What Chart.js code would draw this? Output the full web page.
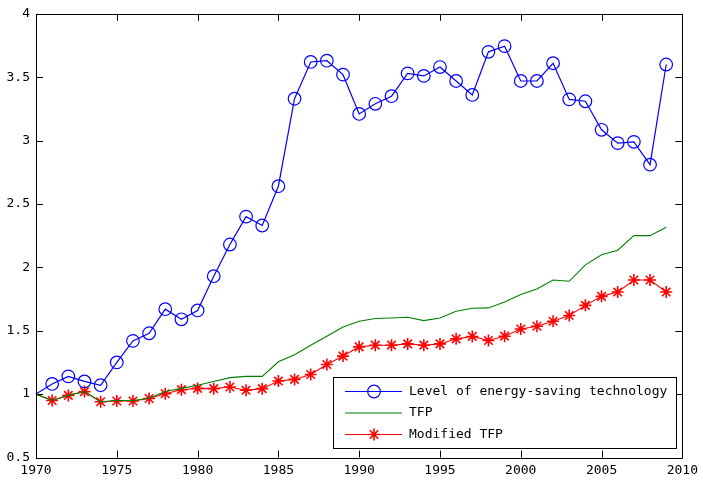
<!DOCTYPE html>
<html lang="en">

<head>
	<meta charset="UTF-8">
	<title>Energy-saving technology and TFP</title>
	<style>
		body { margin: 0; background: #fff; }
	</style>
</head>

<body>
	<canvas id="myChart" width="703" height="485"></canvas>

	<script src="https://cdn.jsdelivr.net/npm/chart.js"></script>
	<script>
		const years = [1970, 1971, 1972, 1973, 1974, 1975, 1976, 1977, 1978, 1979,
			1980, 1981, 1982, 1983, 1984, 1985, 1986, 1987, 1988, 1989,
			1990, 1991, 1992, 1993, 1994, 1995, 1996, 1997, 1998, 1999,
			2000, 2001, 2002, 2003, 2004, 2005, 2006, 2007, 2008, 2009];

		const energyTech = [1.00, 1.08, 1.14, 1.10, 1.07, 1.25, 1.42, 1.48, 1.67, 1.59,
			1.66, 1.93, 2.18, 2.40, 2.33, 2.64, 3.33, 3.62, 3.63, 3.52,
			3.21, 3.29, 3.35, 3.53, 3.51, 3.58, 3.47, 3.36, 3.70, 3.745,
			3.47, 3.47, 3.61, 3.325, 3.31, 3.085, 2.98, 2.99, 2.81, 3.60];

		const tfp = [1.00, 0.95, 0.99, 1.02, 0.94, 0.95, 0.95, 0.967, 1.02, 1.045,
			1.07, 1.10, 1.13, 1.14, 1.14, 1.255, 1.31, 1.385, 1.457, 1.53,
			1.575, 1.596, 1.60, 1.606, 1.58, 1.60, 1.653, 1.677, 1.68, 1.727,
			1.785, 1.83, 1.90, 1.89, 2.02, 2.10, 2.135, 2.25, 2.25, 2.316];

		const modifiedTfp = [1.00, 0.95, 0.99, 1.02, 0.94, 0.946, 0.946, 0.965, 1.003, 1.035,
			1.045, 1.043, 1.056, 1.03, 1.043, 1.103, 1.116, 1.155, 1.234, 1.30,
			1.373, 1.386, 1.386, 1.396, 1.386, 1.396, 1.436, 1.455, 1.423, 1.457,
			1.514, 1.535, 1.575, 1.62, 1.70, 1.771, 1.805, 1.90, 1.90, 1.805];

		const xTicks = [1970, 1975, 1980, 1985, 1990, 1995, 2000, 2005, 2010];
		const yTicks = [0.5, 1, 1.5, 2, 2.5, 3, 3.5, 4];

		const FONT = '"DejaVu Sans Mono", monospace';

		function pts(values) {
			return years.map((y, i) => ({ x: y, y: values[i] }));
		}

		// no marker on the 1970 base point
		const markerSize = (r) => (c) => (c.dataIndex === 0 ? 0 : r);

		// matlab style box with inward ticks, and legend inside the plot
		const matlabBox = {
			id: 'matlab_box',
			afterDraw: (chart) => {
				const ctx = chart.ctx;
				const { top, left, right, bottom } = chart.chartArea;
				const xs = chart.scales.x;
				const ys = chart.scales.y;
				const tl = 7;
				ctx.save();
				ctx.strokeStyle = '#000';
				ctx.lineWidth = 1;
				ctx.beginPath();
				ctx.rect(Math.round(left) + 0.5, Math.round(top) + 0.5,
					Math.round(right - left), Math.round(bottom - top));
				xTicks.forEach(v => {
					const px = Math.round(xs.getPixelForValue(v)) + 0.5;
					ctx.moveTo(px, bottom); ctx.lineTo(px, bottom - tl);
					ctx.moveTo(px, top); ctx.lineTo(px, top + tl);
				});
				yTicks.forEach(v => {
					const py = Math.round(ys.getPixelForValue(v)) + 0.5;
					ctx.moveTo(left, py); ctx.lineTo(left + tl, py);
					ctx.moveTo(right, py); ctx.lineTo(right - tl, py);
				});
				ctx.stroke();

				// legend
				const lx = 333.5, ly = 377.5, lw = 343, lh = 71;
				ctx.fillStyle = '#fff';
				ctx.fillRect(lx, ly, lw, lh);
				ctx.strokeRect(lx, ly, lw, lh);
				ctx.font = '13px ' + FONT;
				ctx.textBaseline = 'middle';
				chart.data.datasets.forEach((ds, i) => {
					const cy = 391.5 + i * 21.5;
					const r = ds.legendRadius;
					ctx.strokeStyle = ds.borderColor;
					ctx.lineWidth = ds.borderWidth;
					ctx.beginPath();
					ctx.moveTo(345, cy); ctx.lineTo(402, cy);
					ctx.stroke();
					const cx = 374;
					if (ds.pointStyle === 'circle' && r > 0) {
						ctx.beginPath();
						ctx.arc(cx, cy, r, 0, Math.PI * 2);
						ctx.stroke();
					} else if (ds.pointStyle === 'star') {
						const d = r * Math.SQRT1_2;
						ctx.lineWidth = ds.pointBorderWidth;
						ctx.beginPath();
						ctx.moveTo(cx - r, cy); ctx.lineTo(cx + r, cy);
						ctx.moveTo(cx, cy - r); ctx.lineTo(cx, cy + r);
						ctx.moveTo(cx - d, cy - d); ctx.lineTo(cx + d, cy + d);
						ctx.moveTo(cx - d, cy + d); ctx.lineTo(cx + d, cy - d);
						ctx.stroke();
					}
					ctx.fillStyle = '#000';
					ctx.fillText(ds.label, 409, cy);
				});
				ctx.restore();
			}
		};

		const data = {
			datasets: [
				{
					label: 'Level of energy-saving technology',
					data: pts(energyTech),
					borderColor: '#0000ff',
					backgroundColor: 'rgba(0,0,0,0)',
					borderWidth: 1.2,
					pointStyle: 'circle',
					legendRadius: 6.3,
					pointRadius: markerSize(6.3),
					pointBorderWidth: 1.2,
					pointBackgroundColor: 'rgba(0,0,0,0)',
					tension: 0,
					clip: false
				},
				{
					label: 'TFP',
					data: pts(tfp),
					borderColor: '#008000',
					backgroundColor: 'rgba(0,0,0,0)',
					borderWidth: 1.1,
					legendRadius: 0,
					pointRadius: 0,
					tension: 0,
					clip: false
				},
				{
					label: 'Modified TFP',
					data: pts(modifiedTfp),
					borderColor: '#ff0000',
					backgroundColor: '#ff0000',
					borderWidth: 1.1,
					pointStyle: 'star',
					legendRadius: 6,
					pointRadius: markerSize(6),
					pointBorderWidth: 1.6,
					tension: 0,
					clip: false
				}
			]
		};

		const config = {
			type: 'line',
			data: data,
			plugins: [matlabBox],
			options: {
				responsive: false,
				animation: false,
				events: [],
				layout: { padding: { top: 11.5, right: 15, left: 0, bottom: 0 } },
				plugins: {
					legend: { display: false },
					tooltip: { enabled: false }
				},
				scales: {
					x: {
						type: 'linear',
						min: 1970,
						max: 2010,
						afterBuildTicks: (s) => { s.ticks = xTicks.map(v => ({ value: v })); },
						afterFit: (s) => { s.height = 27.5; },
						grid: { display: false, drawTicks: false },
						border: { display: false },
						ticks: {
							padding: 5,
							color: '#000',
							font: { family: FONT, size: 13 },
							maxRotation: 0,
							autoSkip: false,
							callback: (v) => String(v)
						}
					},
					y: {
						type: 'linear',
						min: 0.5,
						max: 4,
						afterBuildTicks: (s) => { s.ticks = yTicks.map(v => ({ value: v })); },
						afterFit: (s) => { s.width = 36; },
						grid: { display: false, drawTicks: false },
						border: { display: false },
						ticks: {
							padding: 6,
							color: '#000',
							font: { family: FONT, size: 13 },
							callback: (v) => String(v)
						}
					}
				}
			}
		};

		const myChart = new Chart(document.getElementById('myChart'), config);
	</script>
</body>

</html>
